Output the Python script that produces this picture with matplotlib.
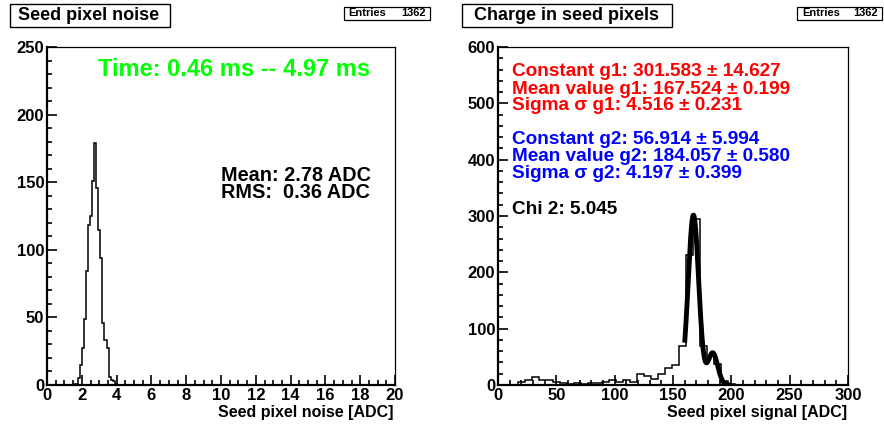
import numpy as np
import matplotlib
matplotlib.use("Agg")
import matplotlib.pyplot as plt
from matplotlib.patches import Rectangle
from matplotlib.ticker import MultipleLocator

plt.rcParams['font.family'] = ['Liberation Sans', 'DejaVu Sans']
plt.rcParams['font.weight'] = 'bold'

# Left: seed pixel noise histogram (ADC)
noise_lo = 1.549
noise_width = 0.117
noise_counts = [1, 1, 5, 15, 27, 49, 84, 118, 125, 151, 179, 146, 115, 94,
                46, 33, 27, 6, 4, 3, 1]

# Right: charge in seed pixels histogram (ADC), 6 ADC bins
charge_lo = 17
charge_width = 6
charge_counts = [5, 8, 14, 9, 8, 5, 3, 2, 3, 2, 4, 3, 5, 8, 5, 9, 6, 19, 16,
                 10, 19, 30, 36, 69, 230, 295, 70, 52, 38, 7, 1]

# Double gaussian fit parameters: [constant, mean, sigma]
g1 = [301.583, 167.524, 4.516]
g2 = [56.914, 184.057, 4.197]
fit_range = [160, 199]

W, H = 884, 429
fig = plt.figure(figsize=(W / 100, H / 100), dpi=100)


def fx(x):
    return x / W


def fy(y):
    return 1 - y / H


def style_axes(ax, xmaj, xmin, ymaj, ymin):
    ax.xaxis.set_major_locator(MultipleLocator(xmaj))
    ax.xaxis.set_minor_locator(MultipleLocator(xmin))
    ax.yaxis.set_major_locator(MultipleLocator(ymaj))
    ax.yaxis.set_minor_locator(MultipleLocator(ymin))
    ax.tick_params(which='both', direction='in', top=False, right=False,
                   labelsize=12, width=1.2)
    ax.tick_params(which='major', length=7.2, pad=2)
    ax.tick_params(which='minor', length=3.6)
    for lbl in ax.get_xticklabels() + ax.get_yticklabels():
        lbl.set_fontweight('bold')
    for s in ['left', 'bottom']:
        ax.spines[s].set_linewidth(1.6)
    for s in ['top', 'right']:
        ax.spines[s].set_linewidth(0.9)


# ---- left panel
ax1 = fig.add_axes([fx(47), fy(385), fx(348), 338 / H])
edges1 = noise_lo + noise_width * np.arange(len(noise_counts) + 1)
ax1.stairs(noise_counts, edges1, color='black', lw=1.1)
ax1.set_xlim(0, 20)
ax1.set_ylim(0, 250)
style_axes(ax1, 2, 0.5, 50, 10)
fig.text(fx(394), fy(412), 'Seed pixel noise [ADC]', ha='right', va='center',
         fontsize=11.5, fontweight='bold')
fig.text(fx(234), fy(70), 'Time: 0.46 ms -- 4.97 ms', color='#00ff00',
         ha='center', va='center', fontsize=17, fontweight='bold')
fig.text(fx(221), fy(175), 'Mean: 2.78 ADC', ha='left', va='center',
         fontsize=14.3, fontweight='bold')
fig.text(fx(221), fy(193), 'RMS:  0.36 ADC', ha='left', va='center',
         fontsize=14.3, fontweight='bold')

# ---- right panel
ax2 = fig.add_axes([fx(498), fy(385), fx(350), 338 / H])
edges2 = charge_lo + charge_width * np.arange(len(charge_counts) + 1)
ax2.stairs(charge_counts, edges2, color='black', lw=1.1)
xf = np.linspace(fit_range[0], fit_range[1], 300)
yf = (g1[0] * np.exp(-0.5 * ((xf - g1[1]) / g1[2]) ** 2)
      + g2[0] * np.exp(-0.5 * ((xf - g2[1]) / g2[2]) ** 2))
ax2.plot(xf, yf, color='black', lw=3.5, solid_capstyle='butt')
ax2.set_xlim(0, 300)
ax2.set_ylim(0, 600)
style_axes(ax2, 50, 10, 100, 20)
fig.text(fx(847), fy(412), 'Seed pixel signal [ADC]', ha='right', va='center',
         fontsize=11.5, fontweight='bold')

lines = [
    ('Constant g1: 301.583 ± 14.627', 'red', 72),
    ('Mean value g1: 167.524 ± 0.199', 'red', 89),
    ('Sigma σ g1: 4.516 ± 0.231', 'red', 106),
    ('Constant g2: 56.914 ± 5.994', 'blue', 140),
    ('Mean value g2: 184.057 ± 0.580', 'blue', 157),
    ('Sigma σ g2: 4.197 ± 0.399', 'blue', 174),
    ('Chi 2: 5.045', 'black', 209),
]
for txt, col, y in lines:
    fig.text(fx(512), fy(y), txt, color=col, ha='left', va='center',
             fontsize=13.7, fontweight='bold')

# ---- title and stats boxes
boxes = [
    ('Seed pixel noise', 9.5, 4.5, 170, 26.5),
    ('Charge in seed pixels', 462, 4.5, 672, 26.5),
]
for txt, x0, y0, x1, y1 in boxes:
    fig.add_artist(Rectangle((fx(x0), fy(y1)), fx(x1 - x0), (y1 - y0) / H,
                             transform=fig.transFigure, fill=False, lw=1.0,
                             ec='black'))
    fig.text(fx((x0 + x1) / 2 - 1), fy((y0 + y1) / 2 + 0.5), txt, ha='center',
             va='center', fontsize=13, fontweight='bold')

for x0, x1 in [(343.5, 430), (797, 882)]:
    fig.add_artist(Rectangle((fx(x0), fy(19.5)), fx(x1 - x0), 12.8 / H,
                             transform=fig.transFigure, fill=False, lw=0.9,
                             ec='black'))
    fig.text(fx(x0 + 5), fy(13.2), 'Entries', ha='left', va='center',
             fontsize=8, fontweight='bold')
    fig.text(fx(x1 - 4), fy(13.2), '1362', ha='right', va='center',
             fontsize=8, fontweight='bold')

fig.savefig('out.png', dpi=100)
